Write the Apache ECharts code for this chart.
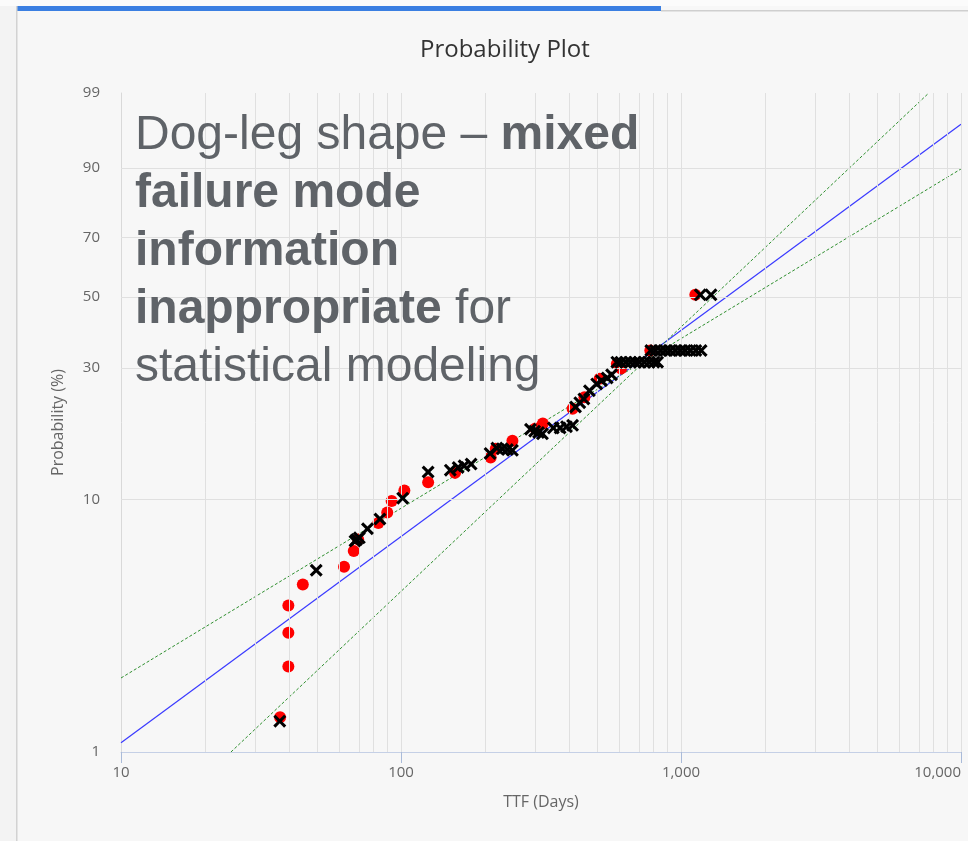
<!DOCTYPE html>
<html>
<head>
<meta charset="utf-8">
<title>Probability Plot</title>
<script src="https://cdn.jsdelivr.net/npm/echarts@6/dist/echarts.min.js"></script>
<style>
  html, body { margin: 0; padding: 0; background: #f7f7f7; }
  #probChart { width: 968px; height: 841px; }
</style>
</head>
<body>
<div id="probChart"></div>
<script>
// red circles (TTF days, cumulative probability %)
const redTtf = [37, 39.6, 39.6, 39.6, 44.6, 62.6, 67.8, 70.3, 83, 89.3, 92.6, 102.8, 125, 156, 209, 218, 250, 302, 321, 410, 452, 512, 590, 611, 777, 1125];
const redProb = [1.38, 2.2, 3.0, 3.85, 4.66, 5.47, 6.3, 7.0, 8.1, 8.9, 9.85, 10.8, 11.6, 12.6, 14.4, 15.5, 16.6, 18.4, 19.2, 21.7, 23.8, 27.6, 31.0, 29.9, 34.3, 50.6];

// black crosses
const crossTtf = [36.9, 49.8, 68.5, 69.5, 71, 75.9, 84.1, 101.4, 125, 150, 160, 168, 178, 208, 220, 230, 240, 250,
  290, 300, 310, 320, 350, 370, 390, 410, 420, 435, 450, 471, 500, 520, 545, 565,
  590, 610, 635, 660, 685, 710, 740, 770, 800, 825,
  780, 810, 845, 880, 915, 955, 995, 1035, 1080, 1130, 1180, 1172, 1280];
const crossProb = [1.33, 5.3, 6.9, 7.0, 7.1, 7.7, 8.4, 10.1, 12.7, 12.9, 13.2, 13.4, 13.6, 14.9, 15.6, 15.5, 15.4, 15.3,
  18.3, 18.0, 17.8, 17.6, 18.5, 18.5, 18.7, 18.9, 22.0, 22.8, 23.5, 25.1, 26.5, 27.2, 27.8, 28.5,
  31.4, 31.4, 31.4, 31.4, 31.4, 31.4, 31.4, 31.4, 31.4, 31.4,
  34.3, 34.3, 34.3, 34.3, 34.3, 34.3, 34.3, 34.3, 34.3, 34.3, 34.3, 50.6, 50.6];

// fitted line and confidence bounds (end points)
const fitTtf = [10, 10000];
const fitProb = [1.09, 96.8];
const boundATtf = [10, 10000];
const boundAProb = [1.98, 89.7];
const boundBTtf = [24.7, 7674];
const boundBProb = [1.0, 99.0];

// axis ticks / grid
const xTicks = [10, 100, 1000, 10000];
const xGrid = [20, 30, 40, 50, 60, 70, 80, 90, 100, 200, 300, 400, 500, 600, 700, 800, 900, 1000,
  2000, 3000, 4000, 5000, 6000, 7000, 8000, 9000, 10000];
const yTicks = [1, 10, 30, 50, 70, 90, 99];
const yGrid = [10, 30, 50, 70, 90, 99];

// weibull paper transforms
const lg = t => Math.log10(t);
const wb = p => Math.log(-Math.log(1 - p / 100));
const unwb = v => 100 * (1 - Math.exp(-Math.exp(v)));
const pts = (ts, ps) => ts.map((t, i) => [lg(t), wb(ps[i])]);

const crossPath = 'path://M2,0 L6,4 L10,0 L12,2 L8,6 L12,10 L10,12 L6,8 L2,12 L0,10 L4,6 L0,2 Z';
const labelFont = '"Open Sans", "Noto Sans", sans-serif';
const noteFont = '"Liberation Sans", Arial, sans-serif';
const yMin = wb(yTicks[0]);

const frame = [
  { type: 'rect', shape: { x: 0, y: 0, width: 968, height: 6 }, style: { fill: '#fbfbfb' }, silent: true },
  { type: 'rect', shape: { x: 16, y: 6, width: 645, height: 5 }, style: { fill: '#3b7fe2' }, silent: true },
  { type: 'rect', shape: { x: 661, y: 10, width: 307, height: 1.5 }, style: { fill: '#cfcfcf' }, silent: true },
  { type: 'rect', shape: { x: 16, y: 6, width: 1.5, height: 835 }, style: { fill: '#d2d2d2' }, silent: true },
  { type: 'rect', shape: { x: 0, y: 6, width: 16, height: 835 }, style: { fill: '#f3f3f3' }, silent: true },
  {
    type: 'text',
    left: 135, top: 112,
    z: 100,
    style: {
      text: '{n|Dog-leg shape \u2013 }{b|mixed}\n{b|failure mode}\n{b|information}\n{b|inappropriate}{n| for}\n{n|statistical modeling}',
      rich: {
        n: { fontFamily: noteFont, fontSize: 48, fontWeight: 'normal', fill: '#5f6368', lineHeight: 58 },
        b: { fontFamily: noteFont, fontSize: 48, fontWeight: 'bold', fill: '#5f6368', lineHeight: 58 }
      }
    }
  }
];

const chart = echarts.init(document.getElementById('probChart'));
chart.setOption({
  backgroundColor: '#f7f7f7',
  animation: false,
  title: {
    text: 'Probability Plot',
    left: 415,
    top: 33,
    textStyle: { fontFamily: labelFont, fontSize: 24, fontWeight: 'normal', color: '#333' }
  },
  grid: { left: 121, right: 7, top: 93, bottom: 89 },
  xAxis: {
    type: 'value',
    min: lg(xTicks[0]), max: lg(xTicks[xTicks.length - 1]), interval: 1,
    name: 'TTF (Days)',
    nameLocation: 'middle',
    nameGap: 42,
    nameTextStyle: { fontFamily: labelFont, fontSize: 16, color: '#666' },
    axisLine: { onZero: false, lineStyle: { color: '#c5d0e6' } },
    axisTick: { show: false },
    axisLabel: {
      margin: 13,
      fontFamily: labelFont, fontSize: 15, color: '#666',
      alignMaxLabel: 'right',
      formatter: v => Math.round(Math.pow(10, v)).toLocaleString('en-US')
    },
    splitLine: { show: false }
  },
  yAxis: {
    type: 'value',
    min: yMin, max: wb(yTicks[yTicks.length - 1]),
    name: 'Probability (%)',
    nameLocation: 'middle',
    nameGap: 55,
    nameTextStyle: { fontFamily: labelFont, fontSize: 16, color: '#666' },
    axisLine: { show: true, onZero: false, lineStyle: { color: '#d9d9d9' } },
    axisTick: { show: false },
    axisLabel: {
      margin: 21,
      fontFamily: labelFont, fontSize: 15, color: '#666',
      customValues: yTicks.map(wb),
      formatter: v => String(Math.round(unwb(v)))
    },
    splitLine: { show: false }
  },
  graphic: frame,
  series: [
    {
      name: 'grid',
      type: 'line',
      data: [],
      silent: true,
      z: 1,
      markLine: {
        silent: true,
        symbol: 'none',
        animation: false,
        label: { show: false },
        lineStyle: { color: '#e0e0e0', type: 'solid', width: 1 },
        data: xGrid.map(v => ({ xAxis: lg(v) })).concat(yGrid.map(v => ({ yAxis: wb(v) })))
      }
    },
    {
      name: 'fit',
      type: 'line',
      data: pts(fitTtf, fitProb),
      symbol: 'none',
      z: 3,
      lineStyle: { color: '#3a3aff', width: 1.2 }
    },
    {
      name: 'boundA',
      type: 'line',
      data: pts(boundATtf, boundAProb),
      symbol: 'none',
      z: 3,
      lineStyle: { color: '#2f8f2f', width: 1, type: [3, 2] }
    },
    {
      name: 'boundB',
      type: 'line',
      data: pts(boundBTtf, boundBProb),
      symbol: 'none',
      z: 3,
      lineStyle: { color: '#2f8f2f', width: 1, type: [3, 2] }
    },
    {
      name: 'red',
      type: 'scatter',
      data: pts(redTtf, redProb),
      symbol: 'circle',
      symbolSize: 12,
      z: 4,
      itemStyle: { color: '#ff0000', opacity: 1 }
    },
    {
      name: 'cross',
      type: 'scatter',
      data: pts(crossTtf, crossProb),
      symbol: crossPath,
      symbolSize: 13,
      z: 5,
      itemStyle: { color: '#000000', opacity: 1 }
    }
  ]
});

// major ticks below the x axis, placed through the chart's own scale
const tickLines = xTicks.map(v => {
  const p = chart.convertToPixel({ gridIndex: 0 }, [lg(v), yMin]);
  const x = Math.round(p[0]) + 0.5;
  return {
    type: 'line',
    silent: true,
    z: 50,
    shape: { x1: x, y1: p[1], x2: x, y2: p[1] + 11 },
    style: { stroke: '#aabbd9', lineWidth: 1 }
  };
});
chart.setOption({ graphic: frame.concat(tickLines) });
</script>
</body>
</html>
